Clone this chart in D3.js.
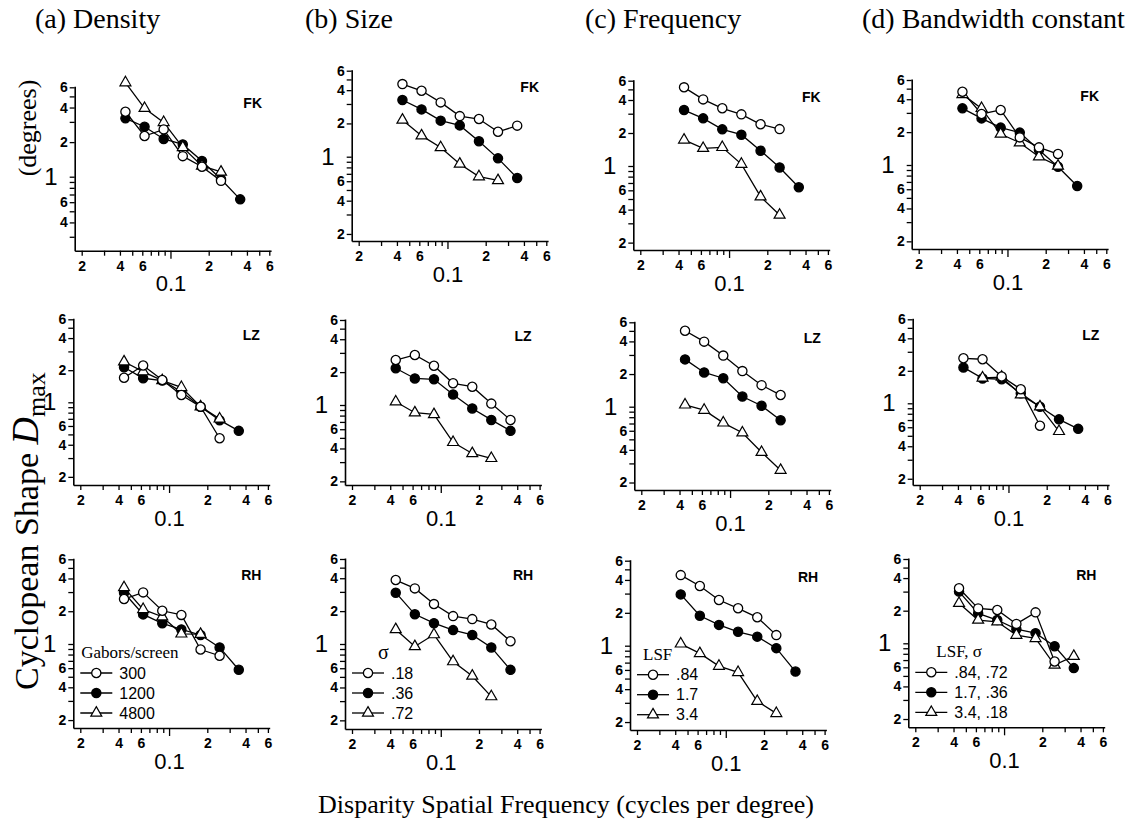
<!DOCTYPE html>
<html>
<head>
<meta charset="utf-8">
<script src="https://cdn.jsdelivr.net/npm/d3@7"></script>
<style>
body { margin: 0; background: #fff; }
svg { display: block; }
</style>
</head>
<body>
<svg id="chart" width="1147" height="829"></svg>
<script>
// disparity spatial frequencies (cycles/deg), half-octave steps
const freqs = [0.0442, 0.0625, 0.0884, 0.125, 0.177, 0.25, 0.354];

const columnTitles = ["(a) Density", "(b) Size", "(c) Frequency", "(d) Bandwidth constant"];
const subjects = ["FK", "LZ", "RH"];
const legendTitles = ["Gabors/screen", "σ", "LSF", "LSF, σ"];
const legendLabels = [
    ["300", "1200", "4800"],
    [".18", ".36", ".72"],
    [".84", "1.7", "3.4"],
    [".84, .72", "1.7, .36", "3.4, .18"]
];

// Dmax (deg) per panel: [open circle, filled circle, triangle]
const densityFK = [[3.68, 2.26, 2.58, 1.51, 1.22, 0.92],
                   [3.22, 2.72, 2.13, 1.91, 1.37, 0.95, 0.635],
                   [6.59, 3.94, 2.97, 1.80, 1.24, 1.10]];
const sizeFK    = [[4.54, 3.95, 3.10, 2.33, 2.19, 1.68, 1.91],
                   [3.26, 2.68, 2.12, 1.92, 1.38, 0.966, 0.641],
                   [2.15, 1.55, 1.21, 0.86, 0.66, 0.61]];
const freqFK    = [[5.22, 4.05, 3.36, 2.96, 2.40, 2.17],
                   [3.24, 2.72, 2.16, 1.93, 1.38, 0.97, 0.64],
                   [1.73, 1.45, 1.48, 1.04, 0.525, 0.357]];
const bandFK    = [[4.69, 2.93, 3.19, 1.79, 1.45, 1.26],
                   [3.30, 2.67, 2.20, 1.98, 1.37, 0.965, 0.643],
                   [4.43, 3.30, 1.92, 1.60, 1.19, 0.98]];

const densityLZ = [[1.70, 2.21, 1.62, 1.17, 0.91, 0.46],
                   [2.13, 1.68, 1.60, 1.26, 0.91, 0.68, 0.54],
                   [2.40, 1.94, 1.60, 1.38, 0.91, 0.70]];
const sizeLZ    = [[2.58, 2.87, 2.29, 1.58, 1.47, 1.03, 0.73],
                   [2.17, 1.75, 1.72, 1.25, 0.93, 0.73, 0.58],
                   [1.07, 0.85, 0.82, 0.455, 0.36, 0.325]];
const freqLZ    = [[5.02, 3.98, 2.96, 2.13, 1.58, 1.28],
                   [2.73, 2.07, 1.83, 1.24, 1.02, 0.75],
                   [1.04, 0.93, 0.71, 0.575, 0.38, 0.26]];
const bandLZ    = [[2.61, 2.56, 1.77, 1.35, 0.62],
                   [2.15, 1.70, 1.67, 1.24, 0.93, 0.71, 0.58],
                   [null, 1.72, 1.75, 1.20, 0.93, 0.55]];

const densityRH = [[2.59, 2.98, 2.02, 1.85, 0.89, 0.78],
                   [2.96, 1.87, 1.55, 1.36, 1.21, 0.93, 0.58],
                   [3.30, 2.08, 1.78, 1.24, 1.23]];
const sizeRH    = [[3.85, 3.23, 2.32, 1.80, 1.69, 1.51, 1.06],
                   [2.95, 1.87, 1.55, 1.34, 1.21, 0.93, 0.58],
                   [1.36, 0.95, 1.22, 0.69, 0.51, 0.33]];
const freqRH    = [[4.43, 3.52, 2.62, 2.20, 1.82, 1.25],
                   [2.95, 1.88, 1.55, 1.34, 1.21, 0.95, 0.58],
                   [1.04, 0.85, 0.65, 0.57, 0.31, 0.24]];
const bandRH    = [[3.22, 2.10, 2.03, 1.51, 1.93, 0.68],
                   [3.00, 1.89, 1.64, 1.35, 1.24, 0.94, 0.59],
                   [2.34, 1.64, 1.58, 1.19, 1.11, 0.63, 0.76]];

const panels = [
    [densityFK, sizeFK, freqFK, bandFK],
    [densityLZ, sizeLZ, freqLZ, bandLZ],
    [densityRH, sizeRH, freqRH, bandRH]
];

// panel placement (scanned figure, so each panel is a little different)
const axisX = [[74.7, 351.7, 633.3, 911.7], [73.3, 345, 634.3, 912.7], [73.3, 345, 630, 908.3]];
const y6px  = [[87.3, 70.7, 80.7, 80], [319.3, 320, 322.3, 319.3], [559.3, 559, 560.7, 559]];
const y1px  = [[176.7, 156.7, 166, 165], [402.3, 405, 406.7, 403.3], [644, 644, 645.7, 643.3]];
const baseY = [[250.7, 241, 250, 249], [485, 485, 490, 485], [728, 729, 730, 727.3]];
const legendTitleDx = [8, 33, 13, 28];
const xDecade = 127;

const sans = "Arial, 'Liberation Sans', Helvetica, sans-serif";
const serif = "'Times New Roman', 'Liberation Serif', Times, serif";

const svg = d3.select("#chart");
svg.append("rect").attr("width", 1147).attr("height", 829).attr("fill", "#fff");

// column titles
const titleX = [35, 305, 585, 862];
svg.selectAll("text.coltitle")
    .data(columnTitles)
    .enter().append("text")
    .attr("class", "coltitle")
    .attr("x", (d, i) => titleX[i])
    .attr("y", 28)
    .style("font-family", serif)
    .style("font-size", "28px")
    .text(d => d);

// axis titles
svg.append("text")
    .attr("x", 566)
    .attr("y", 813)
    .attr("text-anchor", "middle")
    .style("font-family", serif)
    .style("font-size", "26px")
    .text("Disparity Spatial Frequency (cycles per degree)");

const ylab = svg.append("text")
    .attr("transform", "translate(38,690) rotate(-90)")
    .attr("text-anchor", "start")
    .style("font-family", serif)
    .style("font-size", "34px");
ylab.append("tspan").text("Cyclopean Shape ");
ylab.append("tspan").style("font-style", "italic").style("font-size", "38px").text("D");
ylab.append("tspan").attr("dy", 7).style("font-size", "26px").text("max");

svg.append("text")
    .attr("transform", "translate(36,128) rotate(-90)")
    .attr("text-anchor", "middle")
    .style("font-family", serif)
    .style("font-size", "26px")
    .text("(degrees)");

const yTickAll = [0.2, 0.3, 0.4, 0.5, 0.6, 0.7, 0.8, 0.9, 1, 2, 3, 4, 5, 6];
const xTickAll = [0.02, 0.03, 0.04, 0.05, 0.06, 0.07, 0.08, 0.09, 0.1, 0.2, 0.3, 0.4, 0.5, 0.6];
const labelled = v => [2, 4, 6].includes(Math.round(v / Math.pow(10, Math.floor(Math.log10(v) + 1e-9))));
const digit = v => String(Math.round(v / Math.pow(10, Math.floor(Math.log10(v) + 1e-9))));

const triangle = d3.symbol().type(d3.symbolTriangle).size(52);

function drawMarker(sel, kind) {
    if (kind === 2) {
        sel.append("path")
            .attr("d", triangle)
            .attr("fill", "#fff")
            .attr("stroke", "#000")
            .attr("stroke-width", 1.2);
    } else {
        sel.append("circle")
            .attr("r", 4.6)
            .attr("fill", kind === 1 ? "#000" : "#fff")
            .attr("stroke", "#000")
            .attr("stroke-width", 1.3);
    }
}

panels.forEach(function(row, r) {
    row.forEach(function(series, c) {
        const ax = axisX[r][c], by = baseY[r][c], top = y6px[r][c] - 1;
        const yRef = d3.scaleLog().domain([1, 6]).range([y1px[r][c], y6px[r][c]]);
        const y = d3.scaleLog()
            .domain([yRef.invert(by), yRef.invert(top)])
            .range([by, top]);
        const x0 = 0.02 * Math.pow(10, -7 / xDecade);
        const x = d3.scaleLog()
            .domain([x0, 0.62])
            .range([ax, ax + Math.log10(0.62 / x0) * xDecade]);

        const g = svg.append("g");

        // y axis
        const yTicks = yTickAll.filter(v => v >= y.domain()[0] && v <= y.domain()[1] * 1.0001);
        const yAx = g.append("g")
            .attr("transform", `translate(${ax},0)`)
            .call(d3.axisLeft(y).tickValues(yTicks).tickSize(5).tickSizeOuter(0)
                .tickFormat(v => v === 1 ? "1" : (labelled(v) ? digit(v) : "")));
        yAx.select(".domain").attr("stroke-width", 1.6);
        yAx.selectAll(".tick line").attr("stroke-width", 1.3);
        yAx.selectAll(".tick text")
            .style("font-family", sans)
            .style("font-size", "14px")
            .style("font-weight", "bold")
            .attr("x", -7);
        yAx.selectAll(".tick text").filter(v => v === 1)
            .style("font-size", "24px")
            .style("font-weight", "normal")
            .attr("x", -17);

        // x axis
        const xAx = g.append("g")
            .attr("transform", `translate(0,${by})`)
            .call(d3.axisBottom(x).tickValues(xTickAll).tickSize(5).tickSizeOuter(0)
                .tickFormat(v => v === 0.1 ? "0.1" : (labelled(v) ? digit(v) : "")));
        xAx.select(".domain").attr("stroke-width", 1.6);
        xAx.selectAll(".tick line").attr("stroke-width", 1.3);
        xAx.selectAll(".tick line").filter(v => v === 0.1).attr("y2", 8);
        xAx.selectAll(".tick text")
            .style("font-family", sans)
            .style("font-size", "14px")
            .style("font-weight", "bold")
            .attr("y", 10);
        xAx.selectAll(".tick text").filter(v => v === 0.1)
            .style("font-size", "22px")
            .style("font-weight", "normal")
            .attr("y", 25);

        // subject label
        g.append("text")
            .attr("x", ax + 178)
            .attr("y", y6px[r][c] + 16)
            .attr("dy", "0.35em")
            .attr("text-anchor", "middle")
            .style("font-family", sans)
            .style("font-weight", "bold")
            .style("font-size", "14px")
            .text(subjects[r]);

        // data
        const line = d3.line()
            .defined(d => d[1] != null)
            .x(d => x(d[0]))
            .y(d => y(d[1]));
        const pts = series.map(vals => vals.map((v, i) => [freqs[i], v]));

        g.selectAll("path.series")
            .data(pts)
            .enter().append("path")
            .attr("class", "series")
            .attr("d", line)
            .attr("fill", "none")
            .attr("stroke", "#000")
            .attr("stroke-width", 1.3);

        [1, 2, 0].forEach(function(k) {
            pts[k].filter(d => d[1] != null).forEach(function(d) {
                const m = g.append("g").attr("transform", `translate(${x(d[0])},${y(d[1])})`);
                drawMarker(m, k);
            });
        });

        // legend in the bottom row
        if (r === 2) {
            const y1 = y1px[r][c];
            g.append("text")
                .attr("x", ax + legendTitleDx[c])
                .attr("y", y1 + 8)
                .attr("dy", "0.35em")
                .style("font-family", serif)
                .style("font-size", c === 1 ? "20px" : "17px")
                .text(legendTitles[c]);
            legendLabels[c].forEach(function(lab, k) {
                const ly = y1 + 29 + k * 20;
                g.append("line")
                    .attr("x1", ax + 7).attr("x2", ax + 39)
                    .attr("y1", ly).attr("y2", ly)
                    .attr("stroke", "#000")
                    .attr("stroke-width", 1.3);
                drawMarker(g.append("g").attr("transform", `translate(${ax + 23},${ly})`), k);
                g.append("text")
                    .attr("x", ax + 46)
                    .attr("y", ly)
                    .attr("dy", "0.35em")
                    .style("font-family", sans)
                    .style("font-size", "16px")
                    .text(lab);
            });
        }
    });
});
</script>
</body>
</html>
